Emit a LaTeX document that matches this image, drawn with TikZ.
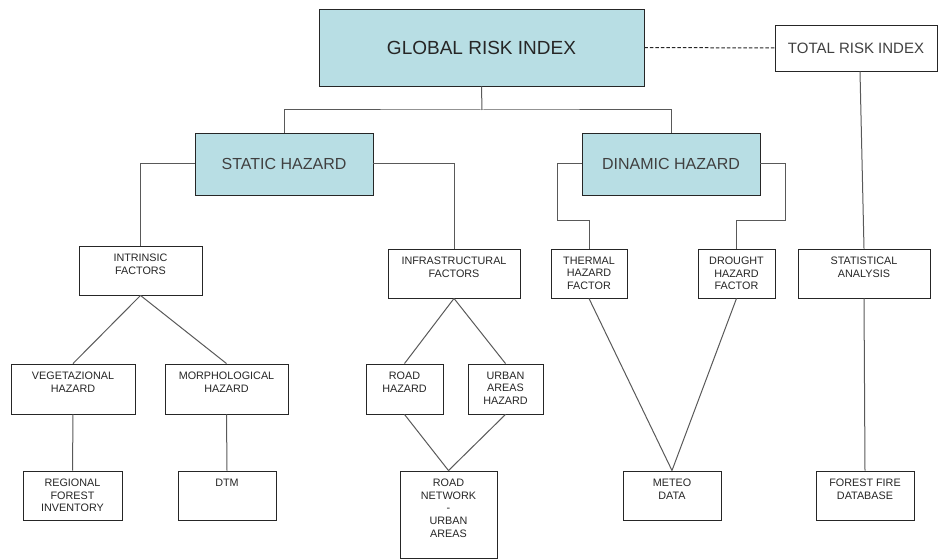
\documentclass[tikz,border=0pt]{standalone}
\usepackage{fontspec}
\setmainfont{Liberation Sans}
\begin{document}
\begin{tikzpicture}[x=1pt,y=-1pt,
  bigbox/.style={draw=black!85, line width=0.9pt, fill=cyanfill, inner sep=0pt},
  sbox/.style={draw=black!85, line width=0.9pt, fill=white, inner sep=0pt},
  lbl/.style={anchor=north, inner sep=0pt, yshift=-8pt, align=center, text=black!85,
    font=\fontsize{10.8}{12.8}\selectfont},
  conn/.style={draw=black!65, line width=1pt},
]
\definecolor{cyanfill}{RGB}{184,222,228}
\useasboundingbox (0,0) rectangle (938,559);

% top level
\node[bigbox, minimum width=325pt, minimum height=77pt, font=\fontsize{19}{22}\selectfont, text=black!85]
  (gri) at (481.5,47.5) {GLOBAL RISK INDEX};
\node[sbox, minimum width=162pt, minimum height=46pt, font=\fontsize{15}{18}\selectfont, text=black!75]
  (tri) at (856,48) {TOTAL RISK INDEX};

\node[bigbox, minimum width=178pt, minimum height=62pt, font=\fontsize{16}{19}\selectfont, text=black!75]
  (static) at (284,164) {STATIC HAZARD};
\node[bigbox, minimum width=178pt, minimum height=62pt, font=\fontsize{16}{19}\selectfont, text=black!75]
  (dinamic) at (671,164) {DINAMIC HAZARD};

% third level
\node[sbox, minimum width=123pt, minimum height=49pt, label={[lbl]north:{INTRINSIC\\FACTORS}}]
  (intr) at (140.5,270.5) {};
\node[sbox, minimum width=132pt, minimum height=49pt, label={[lbl]north:{INFRASTRUCTURAL\\FACTORS}}]
  (infra) at (454,273.5) {};
\node[sbox, minimum width=76pt, minimum height=49pt, label={[lbl]north:{THERMAL\\HAZARD\\FACTOR}}]
  (therm) at (589,273.5) {};
\node[sbox, minimum width=77pt, minimum height=49pt, label={[lbl]north:{DROUGHT\\HAZARD\\FACTOR}}]
  (drought) at (736.5,273.5) {};
\node[sbox, minimum width=132pt, minimum height=49pt, label={[lbl]north:{STATISTICAL\\ANALYSIS}}]
  (stat) at (864,273.5) {};

% fourth level
\node[sbox, minimum width=124pt, minimum height=50pt, label={[lbl]north:{VEGETAZIONAL\\HAZARD}}]
  (veg) at (73,389) {};
\node[sbox, minimum width=123pt, minimum height=50pt, label={[lbl]north:{MORPHOLOGICAL\\HAZARD}}]
  (morph) at (226.5,389) {};
\node[sbox, minimum width=77pt, minimum height=50pt, label={[lbl]north:{ROAD\\HAZARD}}]
  (road) at (404.5,389) {};
\node[sbox, minimum width=75pt, minimum height=50pt, label={[lbl]north:{URBAN\\AREAS\\HAZARD}}]
  (urban) at (505.5,389) {};

% bottom level
\node[sbox, minimum width=99pt, minimum height=49pt, label={[lbl]north:{REGIONAL\\FOREST\\INVENTORY}}]
  (regional) at (72.5,495.5) {};
\node[sbox, minimum width=98pt, minimum height=49pt, label={[lbl]north:{DTM}}]
  (dtm) at (227,495.5) {};
\node[sbox, minimum width=97pt, minimum height=87pt, label={[lbl]north:{ROAD\\NETWORK\\-\\URBAN\\AREAS}}]
  (roadnet) at (448.5,514.5) {};
\node[sbox, minimum width=98pt, minimum height=49pt, label={[lbl]north:{METEO\\DATA}}]
  (meteo) at (672,495.5) {};
\node[sbox, minimum width=98pt, minimum height=49pt, label={[lbl]north:{FOREST FIRE\\DATABASE}}]
  (forest) at (865,495.5) {};

% junction coordinates
\coordinate (j1) at (482,110);
\coordinate (dl) at (557,221);
\coordinate (dr) at (785,221);

% connectors
\draw[conn] (gri.south) -- (j1);
\draw[conn] (static.north) |- (j1) -| (dinamic.north);
\draw[conn] (static.west) -| (intr.north);
\draw[conn] (static.east) -| (infra.north);
\draw[conn] (dinamic.west) -| (dl) -| (therm.north);
\draw[conn] (dinamic.east) -| (dr) -| (drought.north);
\draw[conn] ([xshift=4pt]tri.south) -- (stat.north);
\draw[conn] (stat.south) -- (forest.north);
\draw[conn] (intr.south) -- (veg.north);
\draw[conn] (intr.south) -- (morph.north);
\draw[conn] (veg.south) -- (regional.north);
\draw[conn] (morph.south) -- (dtm.north);
\draw[conn] (infra.south) -- (road.north);
\draw[conn] (infra.south) -- (urban.north);
\draw[conn] (road.south) -- (roadnet.north);
\draw[conn] (urban.south) -- (roadnet.north);
\draw[conn] (therm.south) -- (meteo.north);
\draw[conn] (drought.south) -- (meteo.north);
\draw[conn, draw=black!85, dash pattern=on 3.5pt off 2pt] (gri.east) -- (tri.west);
\end{tikzpicture}
\end{document}
